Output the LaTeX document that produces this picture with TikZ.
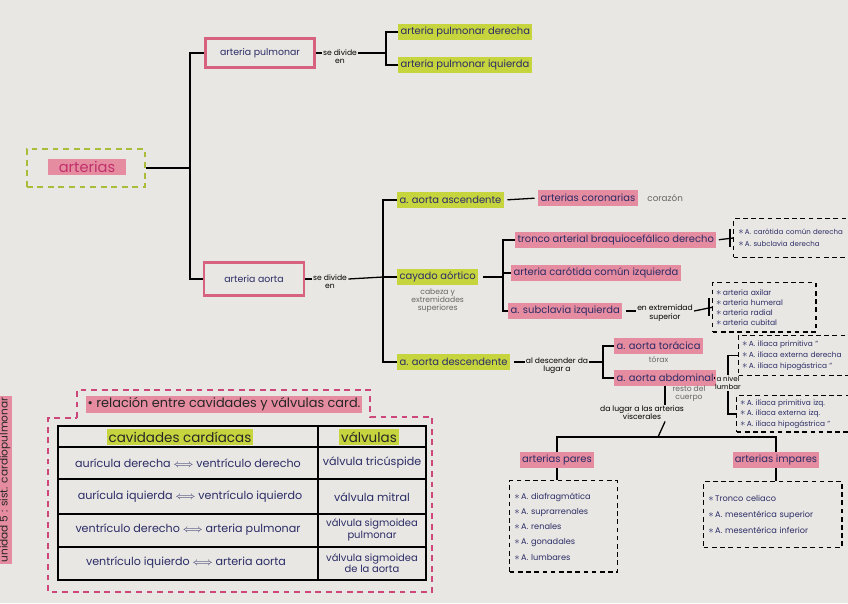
\documentclass[tikz,border=0pt]{standalone}
\usepackage{fontspec}
\setmainfont{Poppins}
\usetikzlibrary{positioning}
\definecolor{paper}{RGB}{233,231,227}
\definecolor{hlgreen}{RGB}{198,212,62}
\definecolor{hlpink}{RGB}{230,140,160}
\definecolor{boxpink}{RGB}{214,98,128}
\definecolor{ink}{RGB}{42,44,102}
\definecolor{dashgreen}{RGB}{172,188,58}
\definecolor{magink}{RGB}{192,48,108}
\definecolor{framepink}{RGB}{204,72,122}
\newcommand{\itm}{{\fontsize{9}{0}\selectfont$\ast$}\,}
\begin{document}
\begin{tikzpicture}[x=0.03cm,y=-0.03cm,
  lbl/.style={font=\fontsize{8.5}{9}\selectfont, text=ink, inner sep=2pt, minimum height=13pt},
  grn/.style={lbl, fill=hlgreen},
  pnk/.style={lbl, fill=hlpink},
  pbox/.style={draw=boxpink, line width=2.2pt, font=\fontsize{8}{9}\selectfont, text=ink, minimum height=25pt},
  dbox/.style={draw, line width=1.2pt, dash pattern=on 4pt off 3pt, align=left, text=ink, inner sep=4pt, anchor=north west},
  note/.style={font=\fontsize{6.5}{7}\selectfont, align=center, inner sep=1pt},
  gnote/.style={note, text=black!60},
  cell/.style={font=\fontsize{9.5}{10.5}\selectfont, text=ink, align=center},
  conn/.style={line width=1.1pt}
]
\useasboundingbox (0,0) rectangle (848,603);
\fill[paper] (0,0) rectangle (848,603);

% root
\node[draw=dashgreen, line width=2pt, dash pattern=on 5pt off 4pt, minimum width=101pt, minimum height=32pt] (art) at (86,168) {};
\node[pnk, text=magink, font=\fontsize{12.5}{13}\selectfont, minimum width=67pt, inner sep=1pt] (arttxt) at (87,167) {arterias};
\coordinate (j1) at (190,168);
\node[pbox, minimum width=93pt] (pulm) at (260,53) {arteria pulmonar};
\node[pbox, minimum width=85pt, minimum height=28pt] (aorta) at (254,279) {arteria aorta};
\draw[conn] (art.east) -- (j1);
\draw[conn] (pulm.west) -| (j1);
\draw[conn] (aorta.west) -| (j1);

% arteria pulmonar
\node[note] (sd1) at (340,57) {se divide\\en};
\coordinate (b1) at (386,53);
\node[grn, anchor=west] (apd) at (398,32) {arteria pulmonar derecha};
\node[grn, anchor=west] (api) at (398,65) {arteria pulmonar iquierda};
\draw[conn] (pulm.east) -- (pulm.east -| sd1.west);
\draw[conn] (sd1.east |- pulm.east) -- (b1);
\draw[conn] (apd.west) -| (b1);
\draw[conn] (api.west) -| (b1);

% arteria aorta
\node[note] (sd2) at (330,282) {se divide\\en};
\coordinate (b2) at (383,277);
\node[grn, anchor=west] (asc) at (397,200) {a. aorta ascendente};
\node[grn, anchor=west] (cay) at (397,277) {cayado aórtico};
\node[grn, anchor=west] (desc) at (397,362) {a. aorta descendente};
\draw[conn] (aorta.east) -- (aorta.east -| sd2.west);
\draw[conn] (sd2.east |- aorta.east) -- (b2);
\draw[conn] (asc.west) -| (b2);
\draw[conn] (desc.west) -| (b2);
\draw[conn] (cay.west) -- (b2);

% ascendente
\node[pnk, anchor=west] (coron) at (538,198) {arterias coronarias};
\node[gnote, font=\fontsize{7.5}{8}\selectfont, right=7pt of coron] (coraz) {corazón};
\draw[conn, shorten <=3pt, shorten >=3pt] (asc.east) -- (coron.west);

% cayado
\node[gnote, below=2pt of cay] (cabeza) {cabeza y\\extremidades\\superiores};
\coordinate (b3) at (503,277);
\node[pnk, anchor=west] (tronco) at (515,240) {tronco arterial braquiocefálico derecho};
\node[pnk, anchor=west] (carot) at (511,273) {arteria carótida común izquierda};
\node[pnk, anchor=west] (subcl) at (508,311) {a. subclavia izquierda};
\draw[conn, shorten <=4pt] (cay.east) -- (b3);
\draw[conn] (tronco.west) -| (b3);
\draw[conn] (subcl.west) -| (b3);
\draw[conn] (carot.west) -- (carot.west -| b3);

\node[dbox, font=\fontsize{6}{10}\selectfont, text width=97pt, minimum height=33pt] (box1) at (733,218)
  {\itm A. carótida común derecha\\\itm A. subclavia derecha};
\draw[conn, shorten <=2pt] (tronco.east) -- (box1.west);
\draw[conn] ([shift={(-3,-9)}]box1.west) -- ([shift={(-3,9)}]box1.west);

\node[note] (ext) at (665,313) {en extremidad\\superior};
\node[dbox, font=\fontsize{6.5}{8.5}\selectfont, text width=82pt, minimum height=42pt, inner sep=3pt] (box2) at (712,282)
  {\itm arteria axilar\\\itm arteria humeral\\\itm arteria radial\\\itm arteria cubital};
\draw[conn, shorten <=3pt] (subcl.east) -- (subcl.east -| ext.west);
\draw[conn] (ext.east |- subcl.east) -- (box2.west);
\draw[conn] ([shift={(-3,-9)}]box2.west) -- ([shift={(-3,9)}]box2.west);

% descendente
\node[note] (dl) at (557,366) {al descender da\\lugar a};
\coordinate (b4) at (603,362);
\node[pnk, anchor=west] (tor) at (614,346) {a. aorta torácica};
\node[pnk, anchor=west] (abd) at (614,378) {a. aorta abdominal};
\node[gnote, below=1pt of tor] (torax) {tórax};
\draw[conn, shorten <=3pt] (desc.east) -- (desc.east -| dl.west);
\draw[conn] (dl.east |- desc.east) -- (b4);
\draw[conn] (tor.west) -| (b4);
\draw[conn] (abd.west) -| (b4);

% nivel lumbar
\node[note, font=\fontsize{6}{6.5}\selectfont] (nivel) at (728,383) {a nivel\\lumbar};
\node[dbox, font=\fontsize{6.3}{9.5}\selectfont, text width=89pt, minimum height=34pt, inner sep=3pt] (box3) at (738,335)
  {\itm A. ilíaca primitiva ''\\\itm A. ilíaca externa derecha\\\itm A. ilíaca hipogástrica ''};
\node[dbox, font=\fontsize{6.3}{9}\selectfont, text width=90pt, minimum height=31pt, inner sep=3pt] (box4) at (736,395)
  {\itm A. ilíaca primitiva izq.\\\itm A. ilíaca externa izq.\\\itm A. ilíaca hipogástrica ''};
\draw[conn, shorten <=2pt] (abd.east) -- (abd.east -| nivel.west);
\draw[conn] (box3.west) -| (nivel.north);
\draw[conn] (box4.west) -| (nivel.south);

% viscerales
\node[note] (visc) at (642,413) {da lugar a las arterias\\viscerales};
\node[gnote] (resto) at (689,394) {resto del\\cuerpo};
\coordinate (b5) at (658,437);
\node[pnk] (pares) at (557,460) {arterias pares};
\node[pnk] (impares) at (776,460) {arterias impares};
\draw[conn] (abd.south) -- (abd.south |- visc.north);
\draw[conn] (visc.south -| abd.south) -- (b5);
\draw[conn] (pares.north) |- (b5);
\draw[conn] (impares.north) |- (b5);

\node[dbox, font=\fontsize{7}{9}\selectfont, text width=84pt, minimum height=78pt] (boxP) at (509,480)
  {\itm A. diafragmática\\[4pt]\itm A. suprarrenales\\[4pt]\itm A. renales\\[4pt]\itm A. gonadales\\[4pt]\itm A. lumbares};
\node[dbox, font=\fontsize{7}{9}\selectfont, text width=110pt, minimum height=56pt] (boxI) at (703,481)
  {\itm Tronco celiaco\\[4.5pt]\itm A. mesentérica superior\\[4.5pt]\itm A. mesentérica inferior};
\draw[conn] (pares.south) -- (pares.south |- boxP.north);
\draw[conn] (impares.south) -- (impares.south |- boxI.north);

% tabla cavidades / valvulas
\draw[framepink, line width=1pt, dash pattern=on 5pt off 4pt]
  (77,418) -- (77,390) -- (370,390) -- (370,417) -- (432,417) -- (432,592) -- (48,592) -- (48,418) -- cycle;
\node[pnk, font=\fontsize{11}{12}\selectfont, text=black!85, inner sep=1.5pt] (tit) at (224,404) {• relación entre cavidades y válvulas card.};
\draw[line width=1.2pt] (58,426) rectangle (426,580);
\draw[line width=1.2pt] (318,426) -- (318,580);
\draw[line width=1.2pt] (58,447) -- (426,447);
\draw[line width=1.2pt] (58,479) -- (426,479);
\draw[line width=1.2pt] (58,514) -- (426,514);
\draw[line width=1.2pt] (58,547) -- (426,547);
\node[grn, font=\fontsize{11.5}{12}\selectfont, text=black!85, inner sep=1.5pt] (hcav) at (180,437) {cavidades cardíacas};
\node[grn, font=\fontsize{11.5}{12}\selectfont, text=black!85, inner sep=1.5pt] (hval) at (369,437) {válvulas};
\node[cell] (c1) at (188,463) {aurícula derecha $\Longleftrightarrow$ ventrículo derecho};
\node[cell] (v1) at (372,463) {válvula tricúspide};
\node[cell] (c2) at (190,497) {aurícula iquierda $\Longleftrightarrow$ ventrículo iquierdo};
\node[cell] (v2) at (372,497) {válvula mitral};
\node[cell] (c3) at (188,530) {ventrículo derecho $\Longleftrightarrow$ arteria pulmonar};
\node[cell, font=\fontsize{8.5}{10}\selectfont] (v3) at (372,530) {válvula sigmoidea\\pulmonar};
\node[cell] (c4) at (186,563) {ventrículo iquierdo $\Longleftrightarrow$ arteria aorta};
\node[cell, font=\fontsize{8.5}{10}\selectfont] (v4) at (372,563) {válvula sigmoidea\\de la aorta};

% margen
\node[pnk, rotate=90, font=\fontsize{9}{10}\selectfont, text=black!85, minimum height=11pt, inner sep=1pt] (unid) at (5,480) {unidad 5 : sist. cardiopulmonar};
\end{tikzpicture}
\end{document}
